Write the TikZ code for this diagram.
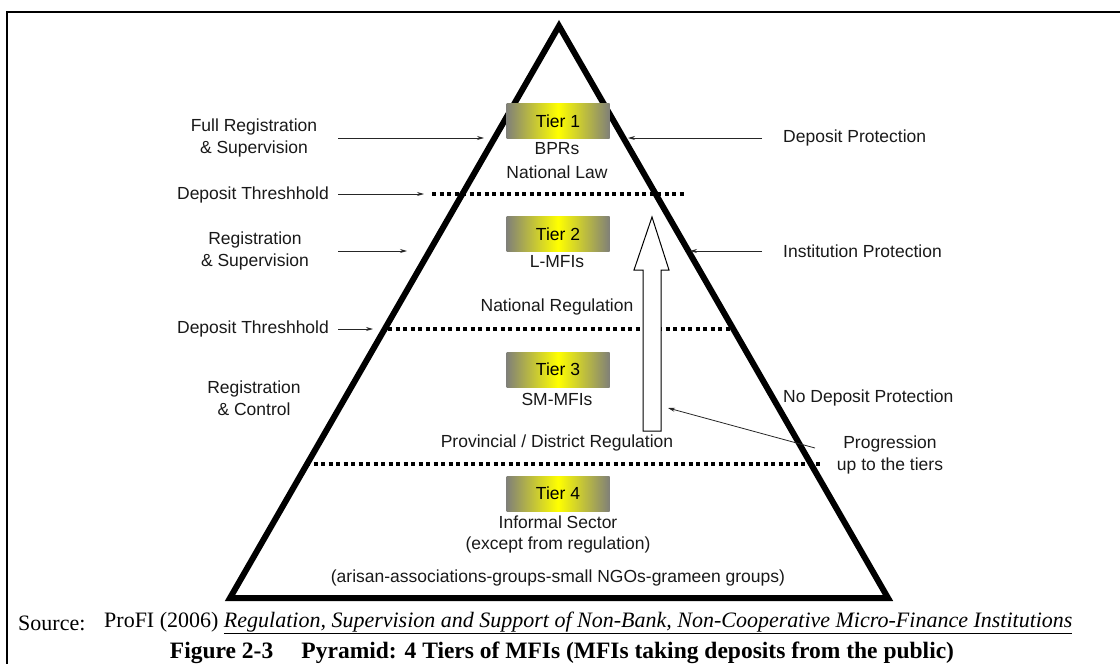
\documentclass[tikz,border=0pt]{standalone}
\usepackage{fontspec}
\setmainfont{Liberation Serif}
\setsansfont{Liberation Sans}
\usetikzlibrary{arrows.meta}
\definecolor{tiergray}{RGB}{128,128,120}
\begin{document}
\begin{tikzpicture}[x=1pt,y=-1pt,
  lbl/.style={font=\sffamily\fontsize{17.5}{22}\selectfont, inner sep=0pt, align=center, text=black!90},
  rlbl/.style={lbl, anchor=west},
  tierbox/.style={minimum width=103pt, minimum height=35pt, inner sep=0pt,
    left color=tiergray, right color=tiergray, middle color=yellow,
    font=\sffamily\fontsize{17.5}{20}\selectfont},
  pointer/.style={-{Stealth[length=7pt,width=4pt]}, line width=0.8pt, draw=black!85},
  threshold/.style={line width=4pt, dash pattern=on 4pt off 3.5pt},
  wall/.style={line width=6pt, line join=miter},
  frameline/.style={line width=2pt}]
\useasboundingbox (0,0) rectangle (1120,664);
\clip (0,0) rectangle (1120,664);

% outer frame (left and top rule)
\coordinate (fbl) at (7,664);
\coordinate (ftl) at (7,12);
\coordinate (ftr) at (1120,12);
\draw[frameline] (fbl) -- (ftl) -- (ftr);

% pyramid corners
\coordinate (apex) at (559,26);
\coordinate (bl) at (230,598);
\coordinate (br) at (888,598);

% deposit thresholds (dotted)
\coordinate (d1l) at (432,194); \coordinate (d1r) at (686,194);
\coordinate (d2l) at (388,329); \coordinate (d2r) at (733,329);
\coordinate (d3l) at (306,464); \coordinate (d3r) at (822,464);
\draw[threshold] (d1l) -- (d1r);
\draw[threshold] (d2l) -- (d2r);
\draw[threshold] (d3l) -- (d3r);

% upward block arrow (progression)
\coordinate (bt) at (652,217);
\draw[fill=white, line width=1pt, line join=miter]
  (bt) -- (669,270) -- (661,270) -- (661,431) -- (643,431) -- (643,270) -- (634,270) -- cycle;

% pyramid outline
\draw[wall] (apex) -- (bl) -- (br) -- cycle;

% tier boxes
\node[tierbox] (t1) at (558,121) {Tier 1};
\node[tierbox] (t2) at (558,234) {Tier 2};
\node[tierbox] (t3) at (558,369.5) {Tier 3};
\node[tierbox] (t4) at (558,493.5) {Tier 4};

% texts inside the pyramid
\node[lbl] (bprs) at (557,149) {BPRs};
\node[lbl] (natlaw) at (557,172) {National Law};
\node[lbl] (lmfi) at (557,262) {L-MFIs};
\node[lbl] (natreg) at (557,307) {National Regulation};
\node[lbl] (smmfi) at (557,399) {SM-MFIs};
\node[lbl] (provreg) at (557,443) {Provincial / District Regulation};
\node[lbl] (informal) at (558,522) {Informal Sector};
\node[lbl] (except) at (558,545) {(except from regulation)};
\node[lbl] (arisan) at (558,578) {(arisan-associations-groups-small NGOs-grameen groups)};

% left-hand labels and pointers
\node[lbl] (fullreg) at (254,138) {Full Registration\\\& Supervision};
\node[lbl] (thr1) at (253,195) {Deposit Threshhold};
\node[lbl] (regsup) at (255,251) {Registration\\\& Supervision};
\node[lbl] (thr2) at (253,329) {Deposit Threshhold};
\node[lbl] (regctl) at (254,398) {Registration\\\& Control};

\coordinate (a1s) at (338,138); \coordinate (a1e) at (484,138);
\coordinate (a2s) at (338,194); \coordinate (a2e) at (424,194);
\coordinate (a3s) at (338,251); \coordinate (a3e) at (407,251);
\coordinate (a4s) at (338,329); \coordinate (a4e) at (373,329);
\draw[pointer] (a1s) -- (a1e);
\draw[pointer] (a2s) -- (a2e);
\draw[pointer] (a3s) -- (a3e);
\draw[pointer] (a4s) -- (a4e);

% right-hand labels and pointers
\node[rlbl] (depprot) at (783,138) {Deposit Protection};
\node[rlbl] (instprot) at (783,251) {Institution Protection};
\node[rlbl] (nodep) at (783,398) {No Deposit Protection};
\node[lbl] (progress) at (890,455) {Progression\\up to the tiers};

\coordinate (b1s) at (762,138); \coordinate (b1e) at (628,138);
\coordinate (b2s) at (762,251); \coordinate (b2e) at (690,251);
\draw[pointer] (b1s) -- (b1e);
\draw[pointer] (b2s) -- (b2e);

\coordinate (ps) at (815,448);
\coordinate (pe) at (668,408);
\draw[pointer] (ps) -- (pe);

% source and caption
\node[anchor=west, font=\fontsize{22}{25}\selectfont, inner sep=0pt] (src) at (18,623) {Source:};
\node[anchor=west, font=\fontsize{22}{25}\selectfont, inner sep=0pt] (ref) at (104,623)
  {ProFI (2006) \underline{\textit{Regulation, Supervision and Support of Non-Bank, Non-Cooperative Micro-Finance Institutions}}};
\node[font=\bfseries\fontsize{23.5}{26}\selectfont, inner sep=0pt] (caption) at (562,653)
  {Figure 2-3\hspace{1.2em}Pyramid: 4 Tiers of MFIs (MFIs taking deposits from the public)};
\end{tikzpicture}
\end{document}
